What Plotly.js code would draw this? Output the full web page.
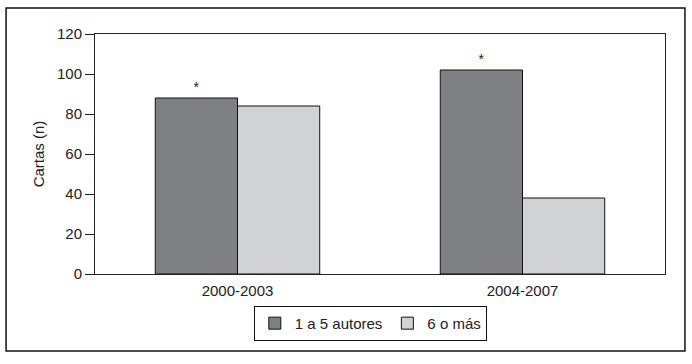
<!DOCTYPE html>
<html>
<head>
<meta charset="utf-8">
<script src="https://cdn.plot.ly/plotly-3.0.1.min.js"></script>
<style>html,body{margin:0;padding:0;background:#fff;}#chart{width:692px;height:364px;}</style>
</head>
<body>
<div id="chart"></div>
<script>
var categories = ['2000-2003', '2004-2007'];
var seriesNames = ['1 a 5 autores', '6 o más'];
var valuesFew = [88, 102];
var valuesMany = [84, 38];
var marksFew = ['*', '*'];
var yTicks = [0, 20, 40, 60, 80, 100, 120];

var FONT = 'Liberation Sans, Arial, Helvetica, sans-serif';

var traces = [
  {
    type: 'bar', name: seriesNames[0], x: categories, y: valuesFew,
    marker: {color: '#7f8083', line: {color: '#111', width: 1}},
    text: marksFew, textposition: 'outside', cliponaxis: false,
    textfont: {family: FONT, size: 14, color: '#222'},
    hoverinfo: 'x+y'
  },
  {
    type: 'bar', name: seriesNames[1], x: categories, y: valuesMany,
    marker: {color: '#d1d2d4', line: {color: '#111', width: 1}},
    hoverinfo: 'x+y'
  }
];

var layout = {
  width: 692, height: 364,
  margin: {l: 95, r: 27, t: 34, b: 90},
  paper_bgcolor: '#fff', plot_bgcolor: '#fff',
  font: {family: FONT, size: 15, color: '#222'},
  barmode: 'group', bargap: 0.423, bargroupgap: 0,
  showlegend: true,
  legend: {
    orientation: 'h', x: 0.483, xanchor: 'center', y: -0.133, yanchor: 'top',
    bordercolor: '#111', borderwidth: 1, font: {family: FONT, size: 15, color: '#222'},
    traceorder: 'normal'
  },
  xaxis: {
    type: 'category', range: [-0.5, 1.5],
    showline: true, linecolor: '#222', linewidth: 1, mirror: true,
    ticks: 'outside', ticklen: 3, tickcolor: 'rgba(0,0,0,0)',
    showgrid: false, zeroline: false,
    tickfont: {family: FONT, size: 15, color: '#222'}
  },
  yaxis: {
    range: [0, 120], tickvals: yTicks, ticktext: yTicks.map(String),
    showline: true, linecolor: '#222', linewidth: 1, mirror: true,
    ticks: 'outside', ticklen: 9, tickcolor: '#222', tickwidth: 1,
    showgrid: false, zeroline: false,
    tickfont: {family: FONT, size: 15, color: '#222'},
    title: {text: 'Cartas (n)', font: {family: FONT, size: 15, color: '#222'}, standoff: 8}
  },
  shapes: [{
    type: 'rect', xref: 'paper', yref: 'paper',
    x0: -0.156, x1: 1.035, y0: -0.321, y1: 1.108,
    line: {color: '#111', width: 1.5}, fillcolor: 'rgba(0,0,0,0)', layer: 'below'
  }]
};

Plotly.newPlot('chart', traces, layout, {displayModeBar: false, staticPlot: true});
</script>
</body>
</html>
